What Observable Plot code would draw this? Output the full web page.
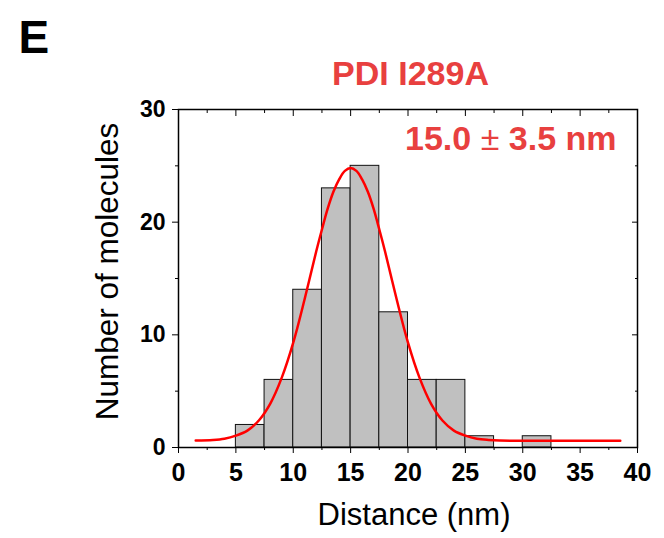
<!DOCTYPE html>
<html><head><meta charset="utf-8">
<script src="https://cdn.jsdelivr.net/npm/d3@7"></script>
<script src="https://cdn.jsdelivr.net/npm/@observablehq/plot@0.6"></script>
<style>body{margin:0;background:#fff}</style>
</head><body><div id="chart"></div>
<script>
// Histogram bins (left edges, bin width 2.5 nm) and counts
const binStart = [5, 7.5, 10, 12.5, 15, 17.5, 20, 22.5, 25, 27.5, 30];
const binCount = [2, 6, 14, 23, 25, 12, 6, 6, 1, 0, 1];
const binWidth = 2.5;

// Fitted curve
const fitX = [1.5, 3, 4, 5, 6, 7, 8, 9, 10, 11, 12, 12.5, 13, 13.5, 14, 14.5, 15, 15.5, 16, 16.5, 17, 17.5, 18, 19, 20, 21, 22, 23, 24, 25, 26, 27, 28, 30, 34, 38.5];
const fitY = [0.62, 0.67, 0.78, 1.05, 1.5, 2.4, 3.9, 6.2, 9.3, 13.2, 17.4, 19.35, 21.2, 22.7, 23.8, 24.55, 24.8, 24.55, 23.8, 22.7, 21.2, 19.35, 17.4, 13.2, 9.3, 6.2, 3.9, 2.4, 1.5, 1.05, 0.78, 0.67, 0.62, 0.6, 0.6, 0.6];

// Ticks
const xTicks = [0, 5, 10, 15, 20, 25, 30, 35, 40];
const xMinor = [2.5, 7.5, 12.5, 17.5, 22.5, 27.5, 32.5, 37.5];
const yTicks = [0, 10, 20, 30];
const yMinor = [5, 15, 25];

// Texts
const panel = "E";
const title = "PDI I289A";
const annotation = "15.0 ± 3.5 nm";
const xLabel = "Distance (nm)";
const yLabel = "Number of molecules";
const red = "#e8403f";

const bins = binStart.map((s, i) => ({x1: s, x2: s + binWidth, y: binCount[i]})).filter(d => d.y > 0);
const fit = fitX.map((x, i) => ({x, y: fitY[i]}));

const plot = Plot.plot({
  width: 664, height: 538,
  marginTop: 109, marginLeft: 178, marginRight: 27, marginBottom: 91,
  style: {fontFamily: "'Liberation Sans', Arial, sans-serif", background: "#fff", color: "#000"},
  x: {domain: [0, 40]},
  y: {domain: [0, 30]},
  marks: [
    Plot.rectY(bins, {x1: "x1", x2: "x2", y: "y", fill: "#c0c0c0", stroke: "#111", strokeWidth: 1}),
    Plot.line(fit, {x: "x", y: "y", stroke: "#ff0000", strokeWidth: 2.5, curve: "catmull-rom"}),
    Plot.frame({stroke: "#000", strokeWidth: 1.5}),
    Plot.axisX({ticks: xTicks, tickSize: 6, tickPadding: 10, fontSize: 25, fontWeight: "bold", label: null, tickFormat: d => String(d)}),
    Plot.axisX({ticks: xMinor, tickSize: 3, fill: "none", label: null}),
    Plot.axisX({anchor: "top", ticks: xTicks, tickSize: -6, fill: "none", label: null}),
    Plot.axisX({anchor: "top", ticks: xMinor, tickSize: -3, fill: "none", label: null}),
    Plot.axisY({ticks: yTicks, tickSize: 6, tickPadding: 7, fontSize: 23, fontWeight: "bold", label: null, tickFormat: d => String(d)}),
    Plot.axisY({ticks: yMinor, tickSize: 3, fill: "none", label: null}),
    Plot.axisY({anchor: "right", ticks: yTicks, tickSize: -6, fill: "none", label: null}),
    Plot.axisY({anchor: "right", ticks: yMinor, tickSize: -3, fill: "none", label: null}),
    Plot.text([panel], {frameAnchor: "top-left", dx: -160, dy: -71, fontSize: 46, fontWeight: "bold", textAnchor: "start", lineAnchor: "middle"}),
    Plot.text([title], {frameAnchor: "top", dx: 2.5, dy: -35, fontSize: 34, fontWeight: "bold", fill: red, textAnchor: "middle", lineAnchor: "middle"}),
    Plot.text([annotation], {frameAnchor: "top-right", dx: -21, dy: 30, fontSize: 34, fontWeight: "bold", fill: red, textAnchor: "end", lineAnchor: "middle"}),
    Plot.text([xLabel], {frameAnchor: "bottom", dx: 6, dy: 68, fontSize: 31, textAnchor: "middle", lineAnchor: "middle"}),
    Plot.text([yLabel], {frameAnchor: "left", dx: -70.5, dy: -7, fontSize: 31.5, rotate: -90, textAnchor: "middle", lineAnchor: "middle"})
  ]
});

// render the ± sign in normal weight as in the reference
d3.select(plot).selectAll("text").filter(function() { return this.textContent === annotation; }).each(function() {
  const t = d3.select(this);
  const parts = annotation.split("±");
  t.text(null);
  t.append("tspan").text(parts[0]);
  t.append("tspan").attr("font-weight", "normal").text("±");
  t.append("tspan").text(parts[1]);
});

document.getElementById("chart").appendChild(plot);
</script>
</body></html>
